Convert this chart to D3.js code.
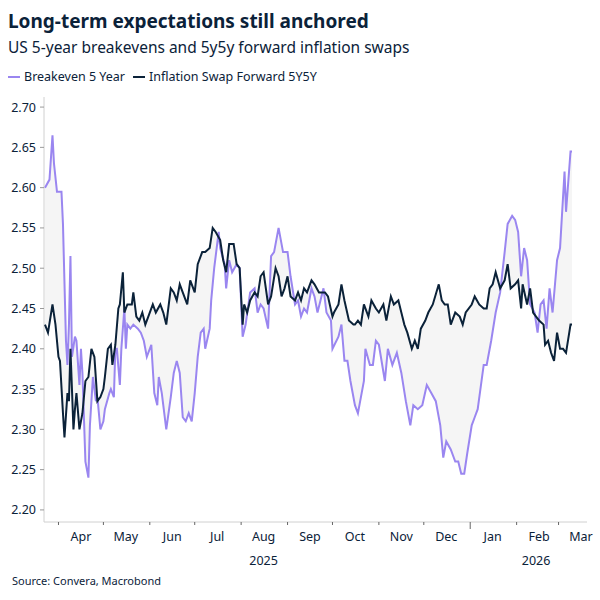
<!DOCTYPE html>
<html>
<head>
<meta charset="utf-8">
<script src="https://cdn.jsdelivr.net/npm/d3@7"></script>
<style>
  body { margin: 0; background: #fff; }
  text { font-family: "Noto Sans", "Open Sans", sans-serif; fill: #0b2239; }
</style>
</head>
<body>
<svg width="600" height="600"></svg>
<script>
// days since 2025-04-01, values in %
const beDays = [-9,-6,-4,-3,-1,2,3,5,6,7,8,9,11,12,14,15,16,18,20,21,23,25,26,28,30,31,34,35,37,38,39,41,42,44,45,46,48,50,53,55,57,59,62,64,66,67,69,72,75,77,79,81,83,85,87,89,91,93,95,97,98,101,102,104,107,108,111,112,114,116,119,121,123,125,128,131,133,135,137,140,142,144,147,150,153,155,158,160,162,164,166,
  169,171,173,175,177,179,182,183,187,189,191,193,195,198,200,202,204,205,208,210,212,214,218,220,223,226,229,232,235,237,240,243,246,249,252,255,257,259,262,265,267,269,271,273,276,278,280,284,286,289,292,295,298,300,303,305,307,309,311,313,315,318,320,322,324,326,328,330,333,335,338,339,342,343];
const beVals = [2.60,2.61,2.665,2.63,2.595,2.595,2.555,2.41,2.38,2.43,2.515,2.39,2.415,2.41,2.355,2.40,2.37,2.26,2.24,2.305,2.365,2.335,2.34,2.30,2.31,2.325,2.345,2.35,2.34,2.40,2.40,2.355,2.40,2.45,2.40,2.43,2.425,2.43,2.425,2.42,2.41,2.39,2.405,2.345,2.33,2.365,2.345,2.30,2.34,2.37,2.385,2.37,2.315,2.31,2.32,2.31,2.345,2.39,2.42,2.425,2.40,2.425,2.46,2.50,2.545,2.525,2.505,2.475,2.51,2.495,2.505,2.50,2.415,2.43,2.47,2.475,2.445,2.455,2.45,2.425,2.515,2.52,2.55,2.52,2.52,2.49,2.455,2.46,2.44,2.45,2.445,
  2.475,2.465,2.445,2.46,2.475,2.445,2.435,2.40,2.415,2.43,2.385,2.385,2.36,2.33,2.32,2.34,2.36,2.40,2.38,2.38,2.41,2.405,2.36,2.40,2.38,2.395,2.37,2.335,2.305,2.33,2.325,2.33,2.355,2.345,2.335,2.305,2.265,2.285,2.275,2.26,2.26,2.245,2.245,2.27,2.305,2.315,2.325,2.38,2.38,2.41,2.445,2.47,2.52,2.555,2.565,2.56,2.545,2.49,2.525,2.51,2.455,2.445,2.42,2.455,2.46,2.425,2.475,2.445,2.51,2.525,2.62,2.57,2.645,2.645];

const swDays = [-9,-7,-4,-2,0,1,3,4,6,7,8,10,11,12,14,16,18,20,22,24,26,28,30,31,33,35,36,38,40,41,43,44,46,49,50,52,54,56,58,60,63,65,68,70,72,75,77,79,81,83,85,86,88,91,93,96,98,101,103,105,108,110,112,114,117,119,121,123,124,126,128,131,133,135,137,140,142,145,147,149,151,153,155,158,160,162,164,166,
  169,171,174,178,180,183,184,187,189,191,194,197,198,200,202,204,207,209,212,214,217,219,222,224,227,229,231,233,236,238,240,242,245,247,250,254,256,258,260,262,265,268,270,272,276,278,281,284,286,288,290,292,295,298,300,302,305,307,309,310,313,315,317,319,321,324,325,327,329,331,333,335,337,339,342,343];
const swVals = [2.43,2.42,2.455,2.43,2.39,2.385,2.32,2.29,2.345,2.335,2.40,2.30,2.325,2.345,2.30,2.32,2.36,2.365,2.40,2.39,2.335,2.34,2.35,2.365,2.40,2.405,2.38,2.405,2.45,2.455,2.495,2.445,2.455,2.455,2.47,2.44,2.435,2.445,2.43,2.44,2.455,2.445,2.455,2.445,2.43,2.475,2.47,2.46,2.48,2.47,2.46,2.455,2.485,2.47,2.505,2.52,2.52,2.525,2.55,2.545,2.535,2.51,2.495,2.53,2.53,2.505,2.50,2.43,2.455,2.445,2.46,2.47,2.465,2.49,2.495,2.455,2.465,2.50,2.49,2.465,2.475,2.49,2.465,2.46,2.47,2.46,2.475,2.47,
  2.485,2.48,2.47,2.47,2.465,2.44,2.445,2.455,2.48,2.46,2.435,2.43,2.43,2.435,2.43,2.455,2.44,2.46,2.45,2.445,2.455,2.435,2.465,2.455,2.46,2.445,2.43,2.42,2.40,2.41,2.40,2.425,2.435,2.445,2.455,2.48,2.46,2.455,2.455,2.43,2.445,2.44,2.43,2.445,2.455,2.465,2.455,2.45,2.45,2.475,2.48,2.495,2.475,2.485,2.505,2.475,2.48,2.485,2.45,2.48,2.455,2.475,2.445,2.44,2.435,2.43,2.405,2.41,2.395,2.385,2.42,2.40,2.40,2.395,2.43,2.43];

const yTicks = [2.20,2.25,2.30,2.35,2.40,2.45,2.50,2.55,2.60,2.65,2.70];
const names = ["Breakeven 5 Year", "Inflation Swap Forward 5Y5Y"];
const colors = ["#9a86f0", "#0b2239"];

const base = new Date(2025, 3, 1);
const toDate = d => d3.timeDay.offset(base, d);
const be = beDays.map((d, i) => ({ date: toDate(d), v: beVals[i] }));
const sw = swDays.map((d, i) => ({ date: toDate(d), v: swVals[i] }));

const svg = d3.select("svg");
const x = d3.scaleTime().domain([new Date(2025, 2, 23), new Date(2026, 2, 20)]).range([45, 587]);
const y = d3.scaleLinear().domain([2.185, 2.715]).range([522, 95]);

// titles
svg.append("text").attr("x", 8).attr("y", 28).style("font-size", "19px").style("font-weight", "bold")
  .text("Long-term expectations still anchored");
svg.append("text").attr("x", 8).attr("y", 53).style("font-size", "15.5px")
  .text("US 5-year breakevens and 5y5y forward inflation swaps");

// legend
let lx = 8;
names.forEach((n, i) => {
  svg.append("line").attr("x1", lx).attr("x2", lx + 12).attr("y1", 77).attr("y2", 77)
    .attr("stroke", colors[i]).attr("stroke-width", 2);
  const t = svg.append("text").attr("x", lx + 16).attr("y", 81).style("font-size", "12.5px").text(n);
  lx += 16 + t.node().getComputedTextLength() + 8;
});

// band between series
const swAt = d3.scaleTime().domain(sw.map(d => d.date)).range(sw.map(d => d.v)).clamp(true);
svg.append("path").datum(be)
  .attr("d", d3.area().x(d => x(d.date)).y0(d => y(d.v)).y1(d => y(swAt(d.date))))
  .attr("fill", "#f5f5f5");

// y axis
svg.append("line").attr("x1", 44).attr("x2", 44).attr("y1", 97).attr("y2", 522).attr("stroke", "#d0d0d0");
yTicks.forEach(t => {
  svg.append("line").attr("x1", 40).attr("x2", 44).attr("y1", y(t)).attr("y2", y(t)).attr("stroke", "#999");
  svg.append("text").attr("x", 36).attr("y", y(t) + 4.5).attr("text-anchor", "end")
    .style("font-size", "12.5px").text(t.toFixed(2));
});

// x axis
svg.append("line").attr("x1", 44).attr("x2", 587).attr("y1", 522).attr("y2", 522).attr("stroke", "#d0d0d0");
const months = d3.timeMonth.range(new Date(2025, 3, 1), new Date(2026, 3, 1));
months.forEach(m => {
  const isJan = m.getMonth() === 0;
  svg.append("line").attr("x1", x(m)).attr("x2", x(m)).attr("y1", 522).attr("y2", isJan ? 529 : 525)
    .attr("stroke", "#666");
  const mid = d3.timeDay.offset(m, 15);
  svg.append("text").attr("x", x(mid)).attr("y", 541).attr("text-anchor", "middle")
    .style("font-size", "12.5px").text(d3.timeFormat("%b")(m));
});
[[new Date(2025, 7, 16), "2025"], [new Date(2026, 1, 14), "2026"]].forEach(([d, s]) => {
  svg.append("text").attr("x", x(d)).attr("y", 565).attr("text-anchor", "middle")
    .style("font-size", "12.5px").text(s);
});

// lines
const line = d3.line().x(d => x(d.date)).y(d => y(d.v));
svg.append("path").datum(be).attr("d", line).attr("fill", "none").attr("stroke", colors[0]).attr("stroke-width", 2);
svg.append("path").datum(sw).attr("d", line).attr("fill", "none").attr("stroke", colors[1]).attr("stroke-width", 2);

svg.append("text").attr("x", 12).attr("y", 585).style("font-size", "11px").text("Source: Convera, Macrobond");
</script>
</body>
</html>
